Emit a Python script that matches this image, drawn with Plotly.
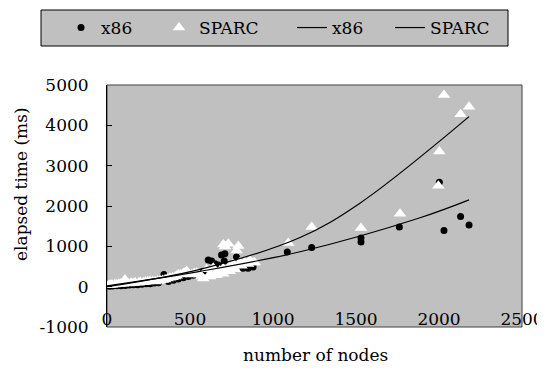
import plotly.graph_objects as go

# ---- data ----
x86_nodes = [15, 35, 60, 85, 110, 135, 160, 185, 210, 235, 260, 285, 310, 343, 370, 400,
             430, 460, 490, 520, 550, 580, 610, 630, 650, 670, 690, 706, 710, 780, 820,
             850, 880, 1086, 1233, 1530, 1530, 1761, 2002, 2030, 2130, 2181]
x86_ms = [10, 15, 20, 25, 30, 40, 45, 50, 60, 70, 75, 90, 100, 300, 130, 160,
          190, 220, 250, 280, 320, 380, 660, 635, 570, 535, 785, 635, 815, 735, 455,
          455, 490, 860, 973, 1205, 1105, 1477, 2590, 1393, 1740, 1527]

sparc_nodes = [10, 20, 30, 45, 55, 70, 80, 95, 108, 120, 130, 145, 160, 170, 190, 200,
               220, 230, 245, 259, 275, 290, 305, 320, 335, 350, 365, 380, 395, 410, 420,
               430, 445, 460, 470, 480, 490, 510, 525, 540, 555, 570, 580, 600, 620, 620,
               640, 660, 660, 680, 700, 700, 701, 711, 731, 740, 740, 760, 770, 781, 791,
               800, 810, 830, 850, 860, 880, 890, 1092, 1233, 1530, 1765, 1996, 2002, 2030,
               2130, 2181]
sparc_ms = [40, 45, 50, 55, 60, 65, 70, 75, 180, 85, 80, 95, 90, 105, 100, 115,
            110, 125, 130, 140, 135, 130, 145, 150, 165, 180, 200, 220, 235, 250, 270,
            305, 300, 330, 345, 388, 320, 300, 330, 346, 300, 250, 200, 430, 300, 250,
            470, 350, 280, 400, 450, 320, 1047, 997, 1064, 500, 380, 560, 430, 898, 1006,
            600, 520, 620, 560, 650, 600, 600, 1080, 1477, 1452, 1807, 2500, 3349, 4752,
            4274, 4463]

# trendline values
x86_trend_nodes = [0, 560, 1163, 1886, 2181]
x86_trend_ms = [20, 380, 866, 1710, 2153]
sparc_trend_nodes = [0, 560, 1163, 1524, 2181]
sparc_trend_ms = [0, 430, 1220, 2071, 4215]

series_names = ["x86", "SPARC"]
y_ticks = [-1000, 0, 1000, 2000, 3000, 4000, 5000]
y_tick_text = ["-1000", "0", "1000", "2000", "3000", "4000", "5000"]
x_ticks = [0, 500, 1000, 1500, 2000, 2500]

FONT = "DejaVu Serif"
FS = 17

fig = go.Figure()
fig.add_trace(go.Scatter(x=x86_nodes, y=x86_ms, mode="markers", name=series_names[0],
                         marker=dict(symbol="circle", size=7, color="black"),
                         legendwidth=53))
fig.add_trace(go.Scatter(x=sparc_nodes, y=sparc_ms, mode="markers", name=series_names[1],
                         marker=dict(symbol="triangle-up", size=11, color="white"),
                         legendwidth=88))
fig.add_trace(go.Scatter(x=x86_trend_nodes, y=x86_trend_ms, mode="lines", name=series_names[0],
                         line=dict(color="black", width=1.2, shape="spline", smoothing=1.0),
                         legendwidth=53))
fig.add_trace(go.Scatter(x=sparc_trend_nodes, y=sparc_trend_ms, mode="lines", name=series_names[1],
                         line=dict(color="black", width=1.2, shape="spline", smoothing=1.0),
                         legendwidth=70))

OFF = 8  # page offset of the figure
W, H = 545 - OFF, 372 - OFF
L, R, T, B = 107 - OFF, 23, 85 - OFF, 45
PW, PH = W - L - R, H - T - B

def px_x(p):
    return (p - OFF - L) / PW

def px_y(p):
    return (H - B - (p - OFF)) / PH

fig.update_layout(
    width=W, height=H,
    margin=dict(l=L, r=R, t=T, b=B, autoexpand=False),
    paper_bgcolor="white",
    plot_bgcolor="#c0c0c0",
    font=dict(family=FONT, size=FS, color="black"),
    showlegend=True,
    legend=dict(orientation="h", x=px_x(61), xanchor="left", y=px_y(28), yanchor="middle",
                bgcolor="rgba(0,0,0,0)", borderwidth=0, font=dict(family=FONT, size=FS),
                tracegroupgap=0),
    xaxis=dict(range=[0, 2500], tickvals=x_ticks, anchor="free", position=px_y(307),
               showline=False, ticks="", showgrid=False, zeroline=False, automargin=False,
               tickfont=dict(family=FONT, size=FS, color="black")),
    xaxis2=dict(range=[0, 2500], overlaying="x", matches="x", anchor="free",
                position=(0 - y_ticks[0]) / (y_ticks[-1] - y_ticks[0]),
                tickvals=x_ticks, showticklabels=False, showline=True, linecolor="#606060",
                linewidth=2, ticks="inside", ticklen=6, tickcolor="#404040", tickwidth=1,
                showgrid=False, zeroline=False, automargin=False),
    yaxis=dict(range=[y_ticks[0], y_ticks[-1]], tickvals=y_ticks, ticktext=y_tick_text,
               showline=True, linecolor="black", linewidth=1, ticks="inside", ticklen=5,
               tickcolor="black", showgrid=False, zeroline=False, ticklabelstandoff=14,
               automargin=False, tickfont=dict(family=FONT, size=FS, color="black")),
    shapes=[
        dict(type="rect", xref="paper", yref="paper", x0=0, x1=1, y0=0, y1=1,
             line=dict(color="#404040", width=1), layer="below"),
        dict(type="rect", xref="paper", yref="paper", x0=px_x(41), x1=px_x(508),
             y0=px_y(46), y1=px_y(10), fillcolor="#c0c0c0",
             line=dict(color="black", width=1), layer="below"),
    ],
    annotations=[
        dict(text="number of nodes", xref="paper", yref="paper", x=px_x(315), y=px_y(355),
             showarrow=False, font=dict(family=FONT, size=FS), xanchor="center", yanchor="middle"),
        dict(text="elapsed time (ms)", xref="paper", yref="paper", x=px_x(21), y=px_y(184),
             showarrow=False, textangle=-90, font=dict(family=FONT, size=FS),
             xanchor="center", yanchor="middle"),
    ],
)

fig.write_html("out.html")
